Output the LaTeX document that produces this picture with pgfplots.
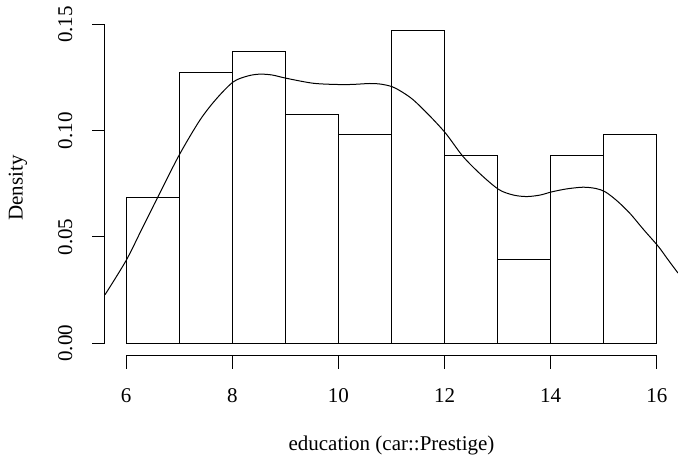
\documentclass[border=0pt]{standalone}
\usepackage{fontspec}
\setmainfont{Liberation Serif}
\usepackage{pgfplots}
\pgfplotsset{compat=1.18}
\begin{document}
\begin{tikzpicture}[x=1pt,y=1pt]
\useasboundingbox (0,0) rectangle (678,457);
\begin{axis}[
  at={(105pt,101.3pt)}, anchor=south west,
  scale only axis, width=573pt, height=337.4pt,
  xmin=5.6, xmax=16.4, ymin=-0.00588, ymax=0.15288,
  axis line style={draw=none},
  xtick={6,8,10,12,14,16}, ytick={0,0.05,0.10,0.15},
  xtick pos=bottom, ytick pos=left,
  tick align=outside, major tick length=13pt,
  every tick/.style={black, line width=1pt},
  /pgf/number format/assume math mode=true,
  yticklabel={\pgfmathprintnumber[fixed,fixed zerofill,precision=2]{\tick}},
  ticklabel style={font=\fontsize{21}{25}\selectfont},
  xticklabel style={anchor=north, yshift=-16pt},
  yticklabel style={rotate=90, anchor=south, yshift=16pt},
  scaled y ticks=false,
  clip=false,
]
\addplot[ybar, bar width=1, bar shift=0, draw=black, fill=white, line width=1pt] coordinates {
(6.5,0.0686) (7.5,0.1275) (8.5,0.1373) (9.5,0.1078) (10.5,0.0980)
(11.5,0.1471) (12.5,0.0882) (13.5,0.0392) (14.5,0.0882) (15.5,0.0980)
};
\addplot[black, line width=1pt, smooth, tension=0.5] coordinates {
(5.60,0.0228) (6.00,0.0390) (6.30,0.0540) (6.60,0.0690) (7.00,0.0886)
(7.39,0.1050) (7.70,0.1150) (8.02,0.1230) (8.30,0.1258) (8.52,0.1266)
(8.75,0.1262) (9.01,0.1247) (9.53,0.1223) (10.03,0.1217) (10.30,0.1218)
(10.59,0.1222) (10.80,0.1219) (11.01,0.1207) (11.20,0.1182) (11.41,0.1145)
(11.70,0.1075) (12.02,0.0988) (12.35,0.0878) (12.70,0.0790) (13.03,0.0722)
(13.30,0.0697) (13.55,0.0690) (13.80,0.0697) (14.02,0.0712) (14.30,0.0726)
(14.61,0.0734) (14.85,0.0728) (15.03,0.0712) (15.25,0.0670) (15.49,0.0612)
(15.75,0.0535) (16.03,0.0455) (16.20,0.0397) (16.40,0.0330)
};
\draw[black, line width=1pt] (axis cs:6,-0.00588) -- (axis cs:16,-0.00588);
\draw[black, line width=1pt] (axis cs:5.6,0) -- (axis cs:5.6,0.15);
\end{axis}
\node[font=\fontsize{21}{25}\selectfont, anchor=base] at (391.5,6) {education (car::Prestige)};
\node[font=\fontsize{21}{25}\selectfont, rotate=90, anchor=center] at (18,269) {Density};
\end{tikzpicture}
\end{document}
